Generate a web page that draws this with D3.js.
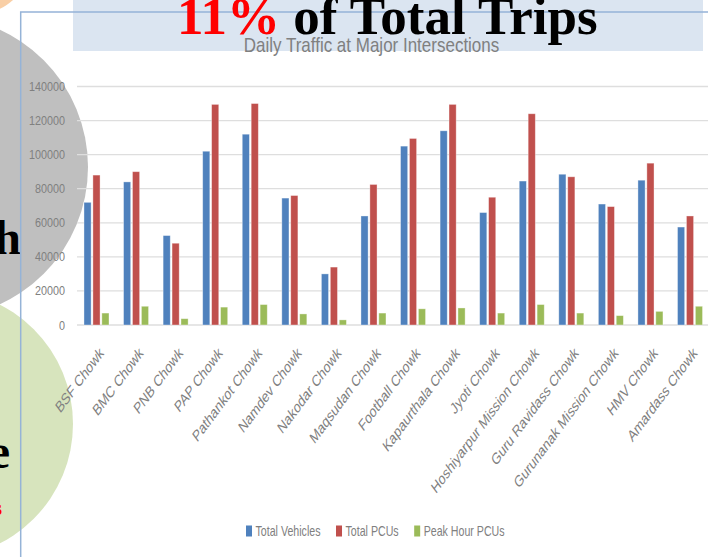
<!DOCTYPE html>
<html lang="en">
<head>
<meta charset="UTF-8">
<title>Daily Traffic at Major Intersections</title>
<script src="https://d3js.org/d3.v7.min.js"></script>
<style>
  body { margin: 0; background: #fff; }
  svg { display: block; }
  .chart-text { font-family: "Liberation Sans", Arial, sans-serif; fill: #808080; }
  .slide-text { font-family: "Liberation Serif", "Times New Roman", serif; font-weight: bold; }
</style>
</head>
<body>
<div id="chart"></div>
<script>
// chart data
const categories = ["BSF Chowk", "BMC Chowk", "PNB Chowk", "PAP Chowk", "Pathankot Chowk", "Namdev Chowk",
  "Nakodar Chowk", "Maqsudan Chowk", "Football Chowk", "Kapaurthala Chowk", "Jyoti Chowk",
  "Hoshiyarpur Mission Chowk", "Guru Ravidass Chowk", "Gurunanak Mission Chowk", "HMV Chowk", "Amardass Chowk"];
const seriesNames = ["Total Vehicles", "Total PCUs", "Peak Hour PCUs"];
const totalVehicles = [72000, 84000, 52500, 102000, 112000, 74500, 30000, 64000, 105000, 114000, 66000, 84500, 88500, 71000, 85000, 57500];
const totalPCUs = [88000, 90000, 48000, 129500, 130000, 76000, 34000, 82500, 109500, 129500, 75000, 124000, 87000, 69500, 95000, 64000];
const peakHourPCUs = [7000, 11000, 3700, 10500, 12000, 6500, 3000, 7000, 9500, 10000, 7000, 12000, 7000, 5500, 8000, 11000];
const yTicks = [0, 20000, 40000, 60000, 80000, 100000, 120000, 140000];

const width = 708, height = 557;
const colors = ["#4f81bd", "#c0504d", "#9bbb59"];
const seriesValues = [totalVehicles, totalPCUs, peakHourPCUs];

const svg = d3.select("#chart").append("svg")
  .attr("width", width)
  .attr("height", height);

// slide background shapes (behind the chart)
svg.append("circle").attr("cx", -30).attr("cy", -50).attr("r", 66).attr("fill", "#f9cfa6");
svg.append("circle").attr("cx", -63).attr("cy", 167).attr("r", 151).attr("fill", "#bfbfbf");
svg.append("circle").attr("cx", -61).attr("cy", 424).attr("r", 134).attr("fill", "#d7e4bd");

svg.append("text").attr("class", "slide-text")
  .attr("x", 21).attr("y", 254).attr("text-anchor", "end")
  .attr("font-size", 48).attr("fill", "#000").text("h");
svg.append("text").attr("class", "slide-text")
  .attr("x", 10).attr("y", 468).attr("text-anchor", "end")
  .attr("font-size", 48).attr("fill", "#000").text("e");
svg.append("text").attr("class", "slide-text")
  .attr("x", 2).attr("y", 515).attr("text-anchor", "end")
  .attr("font-size", 22).attr("fill", "#ff0000").text("s");

// title box + picture frame
svg.append("rect").attr("x", 73).attr("y", 0).attr("width", 630).attr("height", 51).attr("fill", "#dbe5f1");
svg.append("path")
  .attr("d", "M20.7,557 V12 H708")
  .attr("fill", "none").attr("stroke", "#95b3d7").attr("stroke-width", 1.5);

const bigTitle = svg.append("text").attr("class", "slide-text")
  .attr("x", 177).attr("y", 34).attr("font-size", 53);
bigTitle.append("tspan").attr("fill", "#ff0000").text("11%");
bigTitle.append("tspan").attr("fill", "#000").text(" of Total Trips");

// scales
const x = d3.scaleBand()
  .domain(categories)
  .range([76.7, 709.8])
  .paddingInner(0.368)
  .paddingOuter(0.184);

const xSub = d3.scaleBand()
  .domain(seriesNames)
  .range([0, x.bandwidth()])
  .paddingInner(0.2);

const y = d3.scaleLinear()
  .domain([0, 140000])
  .range([325, 86.5]);

// gridlines
svg.append("g")
  .selectAll("line")
  .data(yTicks)
  .join("line")
  .attr("x1", 77).attr("x2", width)
  .attr("y1", d => y(d)).attr("y2", d => y(d))
  .attr("stroke", "#dedede").attr("stroke-width", 1.3);

// y tick labels
svg.append("g")
  .selectAll("text")
  .data(yTicks)
  .join("text")
  .attr("class", "chart-text")
  .attr("transform", d => `translate(65,${y(d)}) scale(0.83,1)`)
  .attr("text-anchor", "end")
  .attr("dy", "0.35em")
  .attr("font-size", 13)
  .attr("fill", "#8a8a8a")
  .text(d => d);

// chart title
svg.append("text")
  .attr("class", "chart-text")
  .attr("transform", "translate(371.5,51.5) scale(0.85,1)")
  .attr("text-anchor", "middle")
  .attr("font-size", 20)
  .attr("fill", "#7a7a7a")
  .text("Daily Traffic at Major Intersections");

// bars
const groups = svg.append("g")
  .selectAll("g")
  .data(categories)
  .join("g")
  .attr("transform", d => `translate(${x(d)},0)`);

groups.selectAll("rect")
  .data((d, i) => seriesNames.map((s, j) => ({ series: s, value: seriesValues[j][i], color: colors[j] })))
  .join("rect")
  .attr("x", d => xSub(d.series))
  .attr("y", d => y(d.value))
  .attr("width", xSub.bandwidth())
  .attr("height", d => y(0) - y(d.value))
  .attr("fill", d => d.color)
  .attr("stroke", "rgba(255,255,255,0.45)")
  .attr("stroke-width", 0.8);

// category labels, rotated
svg.append("g")
  .selectAll("text")
  .data(categories)
  .join("text")
  .attr("class", "chart-text")
  .attr("transform", d => `translate(${x(d) + x.bandwidth() / 2 + 2},346) scale(0.74,1) rotate(-45)`)
  .attr("text-anchor", "end")
  .attr("dy", "0.71em")
  .attr("font-size", 16)
  .text(d => d);

// legend
const legend = svg.append("g").attr("transform", "translate(246,531)");
let lx = 0;
seriesNames.forEach((name, i) => {
  legend.append("rect")
    .attr("x", lx).attr("y", -5.5)
    .attr("width", 6).attr("height", 11)
    .attr("fill", colors[i]);
  const t = legend.append("text")
    .attr("class", "chart-text")
    .attr("transform", `translate(${lx + 9.5},0) scale(0.76,1)`)
    .attr("dy", "0.35em")
    .attr("font-size", 14)
    .text(name);
  lx += 9.5 + t.node().getComputedTextLength() * 0.76 + 15.5;
});
</script>
</body>
</html>
